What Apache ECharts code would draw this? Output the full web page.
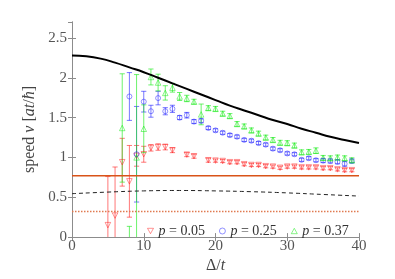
<!DOCTYPE html>
<html><head><meta charset="utf-8">
<script src="https://cdn.jsdelivr.net/npm/echarts@6/dist/echarts.min.js"></script>
<style>html,body{margin:0;padding:0;background:#fff}#c{width:395px;height:279px}</style>
</head><body><div id="c"></div>
<script>
// ---- data ----
const xTicks = [0, 10, 20, 30, 40];
const yTicks = [0, 0.5, 1, 1.5, 2, 2.5];

const xRed = [5,6,7,8,9,10,11,12,13,14,16,17,19,20,21,22,23,24,25,26,27,28,29,30,31,32,33,34,35,36,37,38,39];
const vRed = [0.15,0.27,0.94,0.70,1.02,1.04,1.12,1.13,1.13,1.09,1.035,1.015,0.965,0.96,0.955,0.94,0.94,0.915,0.905,0.905,0.89,0.885,0.87,0.885,0.885,0.875,0.875,0.875,0.865,0.865,0.85,0.84,0.84];
const eRed = [0.61,0.61,0.30,0.45,0.13,0.10,0.04,0.04,0.035,0.03,0.025,0.025,0.025,0.02,0.02,0.02,0.02,0.02,0.02,0.02,0.02,0.02,0.02,0.02,0.02,0.02,0.02,0.02,0.02,0.02,0.02,0.02,0.02];

const xBlue = [8,9,10,11,12,13,14,15,16,17,18,19,20,21,22,23,24,25,26,27,28,29,30,31,32,33,34,35,36,37,38,39];
const vBlue = [1.765,1.04,1.70,1.58,1.745,1.58,1.61,1.50,1.53,1.45,1.46,1.37,1.34,1.31,1.28,1.26,1.22,1.21,1.18,1.16,1.11,1.09,1.05,1.04,0.97,0.99,0.965,0.96,0.955,0.945,0.92,0.955];
const eBlue = [0.30,0.60,0.13,0.075,0.085,0.045,0.045,0.025,0.035,0.025,0.025,0.02,0.02,0.02,0.02,0.02,0.02,0.02,0.02,0.02,0.02,0.02,0.02,0.02,0.02,0.02,0.02,0.025,0.025,0.025,0.03,0.025];

const xGreen = [7,8,9,10,11,12,13,14,15,16,17,18,19,20,21,22,23,24,25,26,27,28,29,30,31,32,33,34,35,36,37,38,39];
const vGreen = [1.37,-0.40,1.00,1.36,2.01,1.94,1.81,1.875,1.765,1.74,1.70,1.54,1.62,1.61,1.55,1.52,1.42,1.39,1.34,1.30,1.25,1.22,1.185,1.18,1.15,1.065,1.07,1.085,0.995,0.99,1.00,0.99,0.965];
const eGreen = [0.68,0.535,1.04,0.30,0.10,0.105,0.09,0.055,0.05,0.04,0.03,0.13,0.03,0.03,0.03,0.03,0.03,0.03,0.03,0.03,0.03,0.03,0.03,0.03,0.03,0.03,0.03,0.035,0.03,0.03,0.03,0.03,0.03];

const xCurve = [0,2,4,6,8,10,12,14,16,18,20,22,24,26,28,30,32,34,36,38,40];
const vUpper = [2.28,2.27,2.24,2.19,2.13,2.07,2.00,1.93,1.86,1.79,1.72,1.65,1.59,1.53,1.47,1.42,1.36,1.31,1.26,1.22,1.18];
const xDash = [0,5,10,15,20,25,30,35,40];
const vDash = [0.545,0.565,0.58,0.585,0.58,0.57,0.555,0.535,0.515];
const levelSolid = 0.77;
const levelDotted = 0.32;
const names = ['p = 0.05', 'p = 0.25', 'p = 0.37'];

// ---- chart ----
const cRed = 'rgba(255,30,30,0.6)', cBlue = 'rgba(30,30,255,0.6)', cGreen = 'rgba(30,235,30,0.65)';
const orange = '#d95319';
const serif = 'Liberation Serif';
const zip = (xs, ys) => xs.map((x, i) => [x, ys[i]]);
const errData = (xs, vs, es) => xs.map((x, i) => [x, vs[i] - es[i], vs[i] + es[i]]);

function errRender(color) {
  return function (params, api) {
    const x = api.value(0), lo = api.value(1), hi = api.value(2);
    const a = api.coord([x, hi]), b = api.coord([x, lo]);
    const w = 2.6;
    const st = { stroke: color, lineWidth: 1 };
    return { type: 'group', children: [
      { type: 'line', shape: { x1: a[0], y1: a[1], x2: b[0], y2: b[1] }, style: st },
      { type: 'line', shape: { x1: a[0] - w, y1: a[1], x2: a[0] + w, y2: a[1] }, style: st },
      { type: 'line', shape: { x1: b[0] - w, y1: b[1], x2: b[0] + w, y2: b[1] }, style: st }
    ]};
  };
}

const axisGray = '#8c8c8c';
const labelStyle = { fontFamily: serif, fontSize: 15, color: '#555' };
const chart = echarts.init(document.getElementById('c'), null, { renderer: 'canvas' });
chart.setOption({
  animation: false,
  backgroundColor: '#fff',
  grid: { left: 72, right: 36, top: 22, bottom: 38 },
  legend: {
    data: [
      { name: names[0], icon: 'path://M0,0 L10,0 L5,9 Z', itemStyle: { color: 'rgba(255,255,255,0)', borderColor: cRed, borderWidth: 1 } },
      { name: names[1], icon: 'circle', itemStyle: { color: 'rgba(255,255,255,0)', borderColor: cBlue, borderWidth: 1 } },
      { name: names[2], icon: 'path://M5,0 L10,9 L0,9 Z', itemStyle: { color: 'rgba(255,255,255,0)', borderColor: cGreen, borderWidth: 1 } }
    ],
    left: 142, top: 219, orient: 'horizontal',
    itemWidth: 6, itemHeight: 6, itemGap: 14,
    formatter: n => '{i|p} = ' + n.split('= ')[1],
    textStyle: { fontFamily: serif, fontSize: 14, color: '#333', rich: { i: { fontStyle: 'italic', fontFamily: serif, fontSize: 14, color: '#333' } } }
  },
  xAxis: [
    { type: 'value', min: xTicks[0], max: xTicks[xTicks.length - 1], interval: 10,
      axisLine: { lineStyle: { color: axisGray } }, axisTick: { inside: true, length: 4, lineStyle: { color: axisGray } },
      axisLabel: Object.assign({ margin: 1 }, labelStyle), splitLine: { show: false },
      name: '{u|Δ/}{i|t}', nameLocation: 'middle', nameGap: 19,
      nameTextStyle: { rich: { u: { fontFamily: serif, fontSize: 16, color: '#444' }, i: { fontFamily: serif, fontStyle: 'italic', fontSize: 16, color: '#444' } } } },
    { type: 'value', position: 'top', min: xTicks[0], max: xTicks[xTicks.length - 1], interval: 10,
      axisLine: { lineStyle: { color: axisGray } }, axisTick: { inside: true, length: 4, lineStyle: { color: axisGray } },
      axisLabel: { show: false }, splitLine: { show: false } }
  ],
  yAxis: [
    { type: 'value', min: 0, max: 2.7, interval: 0.5,
      axisLine: { show: true, lineStyle: { color: axisGray } }, axisTick: { show: true, inside: true, length: 4, lineStyle: { color: axisGray } },
      axisLabel: Object.assign({ margin: 5, showMaxLabel: false, formatter: v => (yTicks.indexOf(v) >= 0 ? String(v) : '') }, labelStyle),
      splitLine: { show: false },
      name: '{u|speed }{i|v}{u| [}{i|at}{u|/}{i|ħ}{u|]}', nameLocation: 'middle', nameGap: 28,
      nameTextStyle: { rich: { u: { fontFamily: serif, fontSize: 16, color: '#444' }, i: { fontFamily: serif, fontStyle: 'italic', fontSize: 16, color: '#444' } } } },
    { type: 'value', position: 'right', min: 0, max: 2.7, interval: 0.5,
      axisLine: { show: true, lineStyle: { color: axisGray } }, axisTick: { show: true, inside: true, length: 4, lineStyle: { color: axisGray } },
      axisLabel: { show: false }, splitLine: { show: false } }
  ],
  series: [
    { type: 'line', data: zip(xCurve, vUpper), smooth: true, showSymbol: false, lineStyle: { color: '#000', width: 2 }, z: 5, silent: true },
    { type: 'line', data: zip(xDash, vDash), smooth: true, showSymbol: false, lineStyle: { color: '#222', width: 1, type: [4, 3] }, z: 5, silent: true },
    { type: 'line', data: [[0, levelSolid], [40, levelSolid]], showSymbol: false, lineStyle: { color: orange, width: 1.5 }, z: 5, silent: true },
    { type: 'line', data: [[0, levelDotted], [40, levelDotted]], showSymbol: false, lineStyle: { color: '#e07a50', width: 1.5, type: [1.5, 1.5] }, z: 5, silent: true },
    { type: 'custom', renderItem: errRender(cRed), data: errData(xRed, vRed, eRed), clip: true, z: 3, silent: true },
    { type: 'custom', renderItem: errRender(cBlue), data: errData(xBlue, vBlue, eBlue), clip: true, z: 3, silent: true },
    { type: 'custom', renderItem: errRender(cGreen), data: errData(xGreen, vGreen, eGreen), clip: true, z: 3, silent: true },
    { name: names[0], type: 'scatter', data: zip(xRed, vRed), symbol: 'triangle', symbolRotate: 180, symbolSize: 5.5,
      itemStyle: { color: 'rgba(255,255,255,0)', borderColor: cRed, borderWidth: 1 }, z: 4 },
    { name: names[1], type: 'scatter', data: zip(xBlue, vBlue), symbol: 'circle', symbolSize: 5,
      itemStyle: { color: 'rgba(255,255,255,0)', borderColor: cBlue, borderWidth: 1 }, z: 4 },
    { name: names[2], type: 'scatter', data: zip(xGreen, vGreen), symbol: 'triangle', symbolSize: 5.5,
      itemStyle: { color: 'rgba(255,255,255,0)', borderColor: cGreen, borderWidth: 1 }, z: 4 }
  ]
});
</script></body></html>
